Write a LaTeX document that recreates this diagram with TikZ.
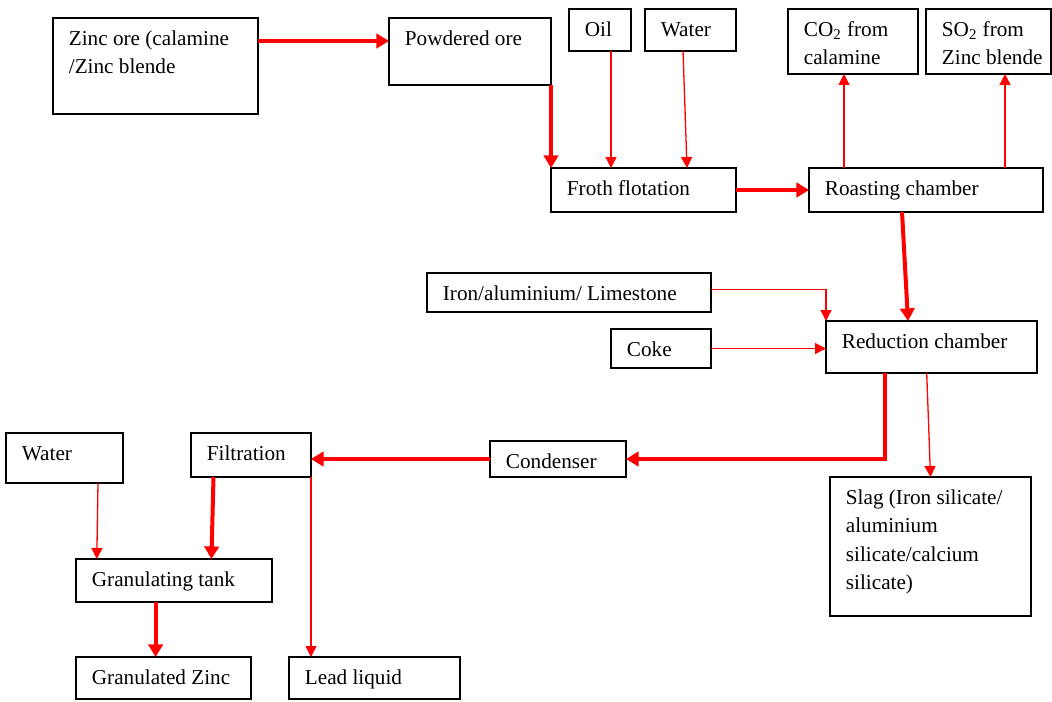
\documentclass[tikz,border=0pt]{standalone}
\usepackage{fontspec}
\setmainfont{Liberation Serif}
\usetikzlibrary{arrows.meta,positioning,calc}
\newcommand{\topgap}{\rule{0pt}{13.5pt}}

\begin{document}
\begin{tikzpicture}[x=0.5pt,y=-0.5pt,
  box/.style={draw,line width=0.6pt,anchor=north west,inner sep=0pt,outer sep=0pt},
  txt/.style={anchor=north west,align=left,inner xsep=7.75pt,inner ysep=0pt,
    font=\fontsize{10.6}{14.25}\selectfont},
  big/.style={red,line width=2pt,-{Triangle[length=6.3pt,width=7.2pt]}},
  small/.style={red,line width=0.65pt,-{Triangle[length=5.5pt,width=5.5pt]}}]
  \useasboundingbox (0,0) rectangle (1052,701);

  % top row
  \node[box,minimum width=102.5pt,minimum height=48pt,
    label={[txt]north west:\topgap Zinc ore (calamine\\/Zinc blende}] (zinc) at (53,18) {};
  \node[box,minimum width=81pt,minimum height=33.5pt,
    label={[txt]north west:\topgap Powdered ore}] (powder) at (389,18) {};
  \node[box,minimum width=31pt,minimum height=21pt,
    label={[txt]north west:\topgap Oil}] (oil) at (569,9) {};
  \node[box,minimum width=45.5pt,minimum height=21pt,
    label={[txt]north west:\topgap Water}] (watera) at (645,9) {};
  \node[box,minimum width=65pt,minimum height=32.5pt,
    label={[txt]north west:\topgap CO\textsubscript{2} from\\calamine}] (co2) at (788,9) {};
  \node[box,minimum width=62.5pt,minimum height=32.5pt,
    label={[txt]north west:\topgap SO\textsubscript{2} from\\Zinc blende}] (so2) at (926,9) {};
  \node[box,minimum width=92.5pt,minimum height=22pt,
    label={[txt]north west:\topgap Froth flotation}] (froth) at (551,168) {};
  \node[box,minimum width=117pt,minimum height=22pt,
    label={[txt]north west:\topgap Roasting chamber}] (roast) at (809,168) {};

  % middle
  \node[box,minimum width=142pt,minimum height=19.5pt,
    label={[txt]north west:\topgap Iron/aluminium/ Limestone}] (iron) at (427,273) {};
  \node[box,minimum width=50pt,minimum height=19.5pt,
    label={[txt]north west:\topgap Coke}] (coke) at (611,329) {};
  \node[box,minimum width=105.5pt,minimum height=26pt,
    label={[txt]north west:\topgap Reduction chamber}] (reduc) at (826,321) {};
  \node[box,minimum width=68pt,minimum height=18pt,
    label={[txt]north west:\topgap Condenser}] (conden) at (490,441) {};
  \node[box,minimum width=100.5pt,minimum height=69.5pt,
    label={[txt]north west:\topgap Slag (Iron silicate/\\aluminium\\silicate/calcium\\silicate)}] (slag) at (830,477) {};

  % bottom left
  \node[box,minimum width=60pt,minimum height=22pt,
    label={[txt]north west:\topgap Filtration}] (filt) at (191,433) {};
  \node[box,minimum width=58.5pt,minimum height=25pt,
    label={[txt]north west:\topgap Water}] (waterb) at (6,433) {};
  \node[box,minimum width=98pt,minimum height=21.5pt,
    label={[txt]north west:\topgap Granulating tank}] (gtank) at (76,559) {};
  \node[box,minimum width=87.5pt,minimum height=21pt,
    label={[txt]north west:\topgap Granulated Zinc}] (gzinc) at (76,657) {};
  \node[box,minimum width=85.5pt,minimum height=21pt,
    label={[txt]north west:\topgap Lead liquid}] (lead) at (289,657) {};

  % flow
  \draw[big] ([yshift=-11.5pt]zinc.north east) -- ([yshift=-11.5pt]powder.north west);
  \draw[big] (powder.south east) -- (froth.north west);
  \draw[small] ([xshift=5.5pt]oil.south) -- ([xshift=5.5pt]oil.south |- froth.north);
  \draw[small] ([xshift=-3.75pt]watera.south) -- ([xshift=21.75pt]froth.north);
  \draw[big] (froth.east) -- (roast.west);
  \draw[small] ([xshift=-4.5pt]co2.south |- roast.north) -- ([xshift=-4.5pt]co2.south);
  \draw[small] ([xshift=8.25pt]so2.south |- roast.north) -- ([xshift=8.25pt]so2.south);
  \draw[big] ([xshift=-12pt]roast.south) -- ([xshift=-11.75pt]reduc.north);
  \draw[small] ([yshift=1.5pt]iron.east) -| (reduc.north west);
  \draw[small] (coke.east) -- (coke.east -| reduc.west);
  \draw[big] ([xshift=-23.2pt]reduc.south) |- (conden.east);
  \draw[small] ([xshift=-2.4pt]reduc.south) -- (slag.north);
  \draw[big] (conden.west) -- (conden.west -| filt.east);
  \draw[small] (filt.south east) -- (filt.south east |- lead.north);
  \draw[big] ([xshift=-18.75pt]filt.south) -- ([xshift=18.7pt]gtank.north);
  \draw[small] ([xshift=16.75pt]waterb.south) -- ([xshift=-38.6pt]gtank.north);
  \draw[big] ([xshift=-9.2pt]gtank.south) -- ([xshift=-9.2pt]gtank.south |- gzinc.north);
\end{tikzpicture}
\end{document}
